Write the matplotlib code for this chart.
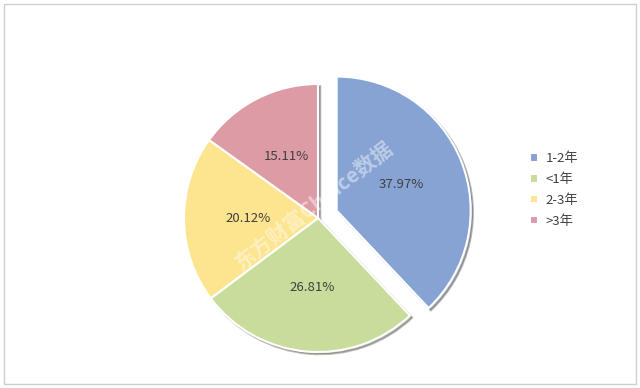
import matplotlib.pyplot as plt
from matplotlib.patches import Rectangle

plt.rcParams['font.family'] = ['Noto Sans CJK SC', 'DejaVu Sans']

# datos del gráfico
categorias = ['1-2年', '<1年', '2-3年', '>3年']
porcentajes = [37.97, 26.81, 20.12, 15.11]
colores = ['#86a3d3', '#c8dc9c', '#fde48e', '#dd9ba6']
separacion = [0.15, 0, 0, 0]

fig = plt.figure(figsize=(6.4, 3.88), dpi=100)
fig.patch.set_facecolor('white')

# marco gris alrededor
fig.patches.append(Rectangle((4 / 640, 4 / 388), 632 / 640, 380 / 388,
                             transform=fig.transFigure, fill=False,
                             ec='#cfcfcf', lw=1))

# centro del pastel (318, 218) px, radio 134 px
mitad = 134 * 1.3
ax = fig.add_axes([(318 - mitad) / 640, (388 - 218 - mitad) / 388,
                   2 * mitad / 640, 2 * mitad / 388])

cunas, textos, autotextos = ax.pie(
    porcentajes, colors=colores, explode=separacion, startangle=90,
    counterclock=False, autopct=lambda p: f'{p:.2f}%', pctdistance=0.52,
    shadow=dict(ox=0.012, oy=-0.012, alpha=0.35),
    wedgeprops=dict(edgecolor='white', linewidth=1.5),
    textprops=dict(fontsize=9.5, color='#404040'))
ax.set_xlim(-1.3, 1.3)
ax.set_ylim(-1.3, 1.3)
ax.set_aspect('equal')

# marca de agua
fig.text(0.49, 0.47, '东方财富Choice数据', rotation=38, fontsize=15,
         color='white', alpha=0.45, ha='center', va='center', fontweight='bold')

# leyenda
fig.legend(cunas, categorias, loc='center left',
           bbox_to_anchor=(518 / 640, 1 - 190 / 388), frameon=False,
           fontsize=9.5, handlelength=0.6, handleheight=0.6,
           handletextpad=0.6, labelspacing=0.6, labelcolor='#404040')

fig.savefig('out.png', dpi=100)
